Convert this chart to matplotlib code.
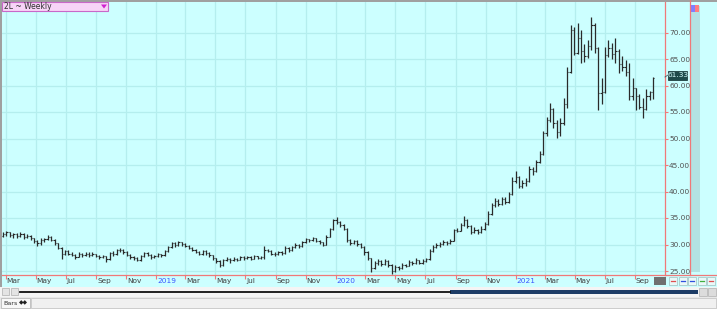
import numpy as np
import pandas as pd
import matplotlib
matplotlib.use("Agg")
import matplotlib.pyplot as plt
import matplotlib.dates as mdates
from matplotlib.patches import Rectangle, Polygon

# ===================== DATA (weekly OHLC, 2L) =====================
first_week = "2018-02-23"
n_weeks = 190

opens = [
    31.6, 32.0, 32.3, 31.7, 31.9, 31.6, 32.0, 31.4, 31.6, 31.2,
    30.6, 30.2, 30.9, 31.0, 31.5, 30.9, 30.2, 29.4, 28.2, 28.7,
    28.3, 28.1, 27.7, 28.2, 28.0, 28.3, 28.0, 28.2, 27.9, 27.6,
    27.8, 27.2, 28.4, 28.2, 28.9, 29.0, 28.6, 28.0, 27.6, 27.4,
    27.1, 27.8, 28.4, 28.1, 27.6, 27.9, 28.2, 28.0, 28.7, 29.6,
    30.2, 29.9, 30.4, 30.1, 29.8, 29.3, 29.0, 28.6, 28.3, 28.7,
    28.4, 28.0, 27.4, 26.8, 26.2, 27.0, 27.3, 27.0, 27.3, 27.1,
    27.7, 27.4, 27.7, 27.3, 27.8, 27.5, 27.7, 29.0, 28.8, 28.3,
    28.2, 28.5, 28.4, 29.4, 28.9, 29.5, 30.0, 29.7, 30.4, 31.0,
    30.8, 31.2, 30.6, 30.4, 30.0, 31.5, 33.0, 34.6, 34.2, 33.6,
    33.0, 30.8, 30.3, 30.6, 30.1, 29.6, 28.5, 27.4, 25.6, 26.5,
    26.8, 26.3, 26.9, 26.1, 25.0, 25.8, 25.5, 26.2, 26.0, 26.7,
    26.5, 27.0, 26.6, 26.9, 27.2, 28.7, 29.6, 29.9, 30.1, 30.5,
    30.3, 30.7, 32.8, 32.6, 33.6, 34.6, 33.5, 32.4, 32.8, 32.3,
    33.0, 33.8, 35.8, 37.5, 38.2, 37.6, 38.5, 38.0, 39.6, 42.0,
    42.8, 41.0, 41.6, 42.0, 44.2, 43.8, 45.6, 47.0, 51.0, 53.5,
    55.5, 53.0, 51.2, 53.0, 56.5, 62.5, 70.5, 66.2, 69.0, 66.5,
    65.5, 67.5, 71.5, 67.0, 58.5, 58.8, 65.8, 67.0, 66.0, 66.5,
    64.0, 63.5, 62.5, 58.0, 59.5, 58.0, 56.0, 55.5, 58.0, 58.8,
]
highs = [
    32.4, 32.5, 32.4, 32.2, 32.1, 32.4, 32.1, 31.9, 31.8, 31.3,
    30.8, 31.2, 31.3, 31.8, 31.6, 31.0, 30.3, 29.5, 29.0, 28.9,
    28.6, 28.3, 28.5, 28.4, 28.6, 28.5, 28.5, 28.3, 28.1, 28.1,
    27.9, 28.6, 28.7, 29.1, 29.3, 29.1, 28.8, 28.2, 27.9, 27.6,
    28.0, 28.6, 28.5, 28.2, 28.1, 28.4, 28.3, 28.9, 29.8, 30.5,
    30.4, 30.6, 30.5, 30.2, 29.9, 29.5, 29.2, 28.7, 28.9, 28.9,
    28.5, 28.1, 27.5, 27.0, 27.2, 27.6, 27.4, 27.6, 27.5, 27.9,
    27.8, 27.9, 27.8, 28.0, 27.9, 27.9, 29.8, 29.2, 28.9, 28.5,
    28.7, 28.7, 29.7, 29.5, 29.7, 30.2, 30.1, 30.6, 31.2, 31.1,
    31.5, 31.3, 30.8, 30.5, 31.7, 33.2, 34.9, 35.2, 34.4, 33.8,
    33.1, 31.0, 30.9, 30.8, 30.3, 29.8, 28.7, 27.5, 26.9, 27.3,
    27.0, 27.2, 27.0, 26.3, 26.1, 26.0, 26.5, 26.4, 27.0, 26.9,
    27.4, 27.1, 27.2, 27.5, 29.2, 29.9, 30.3, 30.5, 30.9, 30.7,
    31.0, 33.0, 33.2, 34.0, 35.3, 34.8, 33.7, 33.3, 33.0, 33.4,
    34.3, 36.3, 37.9, 38.8, 38.5, 39.0, 38.9, 40.0, 42.8, 43.8,
    43.0, 42.2, 42.6, 44.8, 44.6, 46.0, 47.6, 51.5, 54.0, 56.7,
    55.8, 53.5, 53.8, 57.7, 63.4, 71.4, 71.0, 71.8, 70.5, 67.8,
    68.6, 73.0, 71.8, 67.2, 61.5, 67.2, 68.6, 68.0, 69.0, 66.8,
    65.6, 64.8, 64.2, 61.5, 59.6, 58.4, 57.7, 59.4, 59.0, 61.6,
]
lows = [
    31.4, 31.6, 31.4, 31.3, 31.2, 31.5, 31.1, 31.2, 30.9, 30.3,
    29.8, 30.0, 30.5, 30.8, 30.6, 29.9, 29.1, 27.3, 28.0, 28.0,
    27.8, 27.3, 27.6, 27.7, 27.8, 27.7, 27.8, 27.6, 27.3, 27.4,
    26.7, 27.1, 27.9, 28.0, 28.5, 28.3, 27.8, 27.3, 27.1, 26.8,
    26.9, 27.6, 27.8, 27.3, 27.4, 27.7, 27.7, 27.9, 28.5, 29.4,
    29.6, 29.7, 29.8, 29.5, 29.1, 28.7, 28.4, 28.0, 28.1, 28.1,
    27.7, 27.1, 26.5, 25.8, 26.0, 26.8, 26.6, 26.8, 26.8, 27.0,
    27.1, 27.2, 27.0, 27.2, 27.2, 27.3, 27.3, 28.5, 28.0, 27.8,
    28.0, 28.1, 28.3, 28.6, 28.8, 29.3, 29.4, 29.6, 30.2, 30.5,
    30.7, 30.4, 30.1, 29.8, 29.9, 31.4, 32.8, 33.9, 33.3, 32.7,
    30.5, 30.0, 30.1, 29.8, 29.3, 28.0, 27.0, 24.9, 25.3, 26.2,
    25.9, 26.1, 25.8, 24.5, 24.8, 25.2, 25.3, 25.7, 25.9, 26.2,
    26.4, 26.3, 26.4, 26.7, 27.0, 28.5, 29.4, 29.6, 30.0, 30.0,
    30.1, 30.6, 32.3, 32.5, 33.4, 33.2, 32.0, 32.1, 32.0, 32.1,
    32.8, 33.6, 35.5, 37.0, 37.2, 37.4, 37.6, 37.8, 39.4, 41.6,
    40.6, 40.7, 41.0, 41.8, 43.2, 43.6, 45.3, 46.8, 50.5, 53.2,
    52.0, 50.1, 50.5, 52.5, 55.8, 62.3, 65.8, 65.9, 64.2, 64.5,
    65.2, 66.7, 66.2, 55.3, 56.6, 58.6, 65.3, 65.0, 64.2, 62.3,
    62.8, 61.8, 57.2, 57.2, 55.3, 55.5, 53.9, 55.3, 57.2, 57.5,
]
closes = [
    32.0, 32.3, 31.7, 31.9, 31.6, 32.0, 31.4, 31.6, 31.2, 30.6,
    30.2, 30.9, 31.0, 31.5, 30.9, 30.2, 29.4, 28.2, 28.7, 28.3,
    28.1, 27.7, 28.2, 28.0, 28.3, 28.0, 28.2, 27.9, 27.6, 27.8,
    27.2, 28.4, 28.2, 28.9, 29.0, 28.6, 28.0, 27.6, 27.4, 27.1,
    27.8, 28.4, 28.1, 27.6, 27.9, 28.2, 28.0, 28.7, 29.6, 30.2,
    29.9, 30.4, 30.1, 29.8, 29.3, 29.0, 28.6, 28.3, 28.7, 28.4,
    28.0, 27.4, 26.8, 26.2, 27.0, 27.3, 27.0, 27.3, 27.1, 27.7,
    27.4, 27.7, 27.3, 27.8, 27.5, 27.7, 29.0, 28.8, 28.3, 28.2,
    28.5, 28.4, 29.4, 28.9, 29.5, 30.0, 29.7, 30.4, 31.0, 30.8,
    31.2, 30.6, 30.4, 30.0, 31.5, 33.0, 34.6, 34.2, 33.6, 33.0,
    30.8, 30.3, 30.6, 30.1, 29.6, 28.5, 27.4, 25.6, 26.5, 26.8,
    26.3, 26.9, 26.1, 25.0, 25.8, 25.5, 26.2, 26.0, 26.7, 26.5,
    27.0, 26.6, 26.9, 27.2, 28.7, 29.6, 29.9, 30.1, 30.5, 30.3,
    30.7, 32.8, 32.6, 33.6, 34.6, 33.5, 32.4, 32.8, 32.3, 33.0,
    33.8, 35.8, 37.5, 38.2, 37.6, 38.5, 38.0, 39.6, 42.0, 42.8,
    41.0, 41.6, 42.0, 44.2, 43.8, 45.6, 47.0, 51.0, 53.5, 55.5,
    53.0, 51.2, 53.0, 56.5, 62.5, 70.5, 66.2, 69.0, 66.5, 65.5,
    67.5, 71.5, 67.0, 58.5, 58.8, 65.8, 67.0, 66.0, 66.5, 64.0,
    63.5, 62.5, 58.0, 59.5, 58.0, 56.0, 55.5, 58.0, 58.8, 61.33,
]

y_ticks = [25, 30, 35, 40, 45, 50, 55, 60, 65, 70]
month_ticks = ["2018-03-01", "2018-05-01", "2018-07-01", "2018-09-01", "2018-11-01",
               "2019-01-01", "2019-03-01", "2019-05-01", "2019-07-01", "2019-09-01",
               "2019-11-01", "2020-01-01", "2020-03-01", "2020-05-01", "2020-07-01",
               "2020-09-01", "2020-11-01", "2021-01-01", "2021-03-01", "2021-05-01",
               "2021-07-01", "2021-09-01"]
month_labels = ["Mar", "May", "Jul", "Sep", "Nov", "2019", "Mar", "May", "Jul", "Sep",
                "Nov", "2020", "Mar", "May", "Jul", "Sep", "Nov", "2021", "Mar", "May",
                "Jul", "Sep"]
last_price = "61.33"
title = "2L ~ Weekly"

# ===================== COLOURS =====================
BG = "#ccffff"
GRID = "#b4eeee"
RED = "#f07878"
BAR = "#2a2a2a"
BLUE = "#3a55ff"

# ===================== FIGURE =====================
W, H = 717, 309
fig = plt.figure(figsize=(W / 100, H / 100), dpi=100)
fig.patch.set_facecolor(BG)


def px_axes(x0, y0, x1, y1, **kw):
    return fig.add_axes([x0 / W, 1 - y1 / H, (x1 - x0) / W, (y1 - y0) / H], **kw)


# overlay in pixel coordinates (for frame pieces)
ov = px_axes(0, 0, W, H, zorder=5)
ov.set_xlim(0, W)
ov.set_ylim(H, 0)
ov.axis("off")
ov.patch.set_alpha(0)

# ===================== MAIN PRICE AXES =====================
ax = px_axes(2, 2, 665, 275, zorder=2)
ax.set_facecolor(BG)

d0 = mdates.date2num(pd.Timestamp("2018-03-01"))
d1 = mdates.date2num(pd.Timestamp("2021-09-01"))
ppd = (635 - 6) / (d1 - d0)
ax.set_xlim(d0 - (6 - 2) / ppd, d1 + (665 - 635) / ppd)
ax.set_ylim(70 - (275 - 32.5) / 5.3, 70 + (32.5 - 2) / 5.3)

dates = pd.date_range(first_week, periods=n_weeks, freq="W-FRI")
x = mdates.date2num(dates)

ax.vlines(x, lows, highs, color=BAR, lw=0.9, zorder=3)
ax.hlines(opens, x - 2.6, x, color=BAR, lw=0.8, zorder=3)
ax.hlines(closes, x, x + 2.6, color=BAR, lw=0.8, zorder=3)

xt = mdates.date2num(pd.to_datetime(month_ticks))
ax.set_xticks(xt)
ax.set_xticklabels([])
ax.tick_params(axis="x", direction="out", length=3, width=0.8, color=RED)
ax.yaxis.tick_right()
ax.set_yticks(y_ticks)
ax.set_yticklabels([f"{v:.2f}" for v in y_ticks], fontsize=5.3, color="#505050")
ax.tick_params(axis="y", direction="out", length=2, width=0.8, color=RED, pad=1)
ax.grid(True, color=GRID, lw=0.9)
ax.set_axisbelow(True)

for s in ["top", "left"]:
    ax.spines[s].set_visible(False)
for s in ["bottom", "right"]:
    ax.spines[s].set_color(RED)
    ax.spines[s].set_linewidth(0.9)

trans = ax.get_xaxis_transform()
for t, lab in zip(xt, month_labels):
    col = BLUE if lab.isdigit() else "#404040"
    ax.text(t + 1.5, -0.012, lab, transform=trans, ha="left", va="top",
            fontsize=5.3, color=col, clip_on=False)

# ===================== FRAME / UI PIECES =====================
# outer grey border
ov.add_patch(Rectangle((0, 0), W, 1.5, color="#a0a0a0", lw=0))
ov.add_patch(Rectangle((0, 0), 1.5, 287, color="#a0a0a0", lw=0))

# bottom red line across full width
ov.plot([665, W], [275, 275], color=RED, lw=0.9)
# second red vertical line and the shaded strip
ov.plot([689.5, 689.5], [0, 275], color=RED, lw=0.9)
ov.add_patch(Rectangle((691, 6), 9, 266, color="#b3e3e3", lw=0))
ov.add_patch(Rectangle((690.5, 5), 4, 7, color="#7f7fff", lw=0))
ov.add_patch(Rectangle((694.5, 5), 4, 7, color="#ff7f7f", lw=0))

# title box
ov.add_patch(Rectangle((2, 1.5), 106, 9, facecolor="#f7d4f7", edgecolor="#c868c8", lw=0.8))
ov.text(4, 6.2, title, fontsize=5.5, color="#303030", va="center", ha="left")
ov.add_patch(Polygon([[101, 4.5], [107, 4.5], [104, 8.5]], closed=True, color="#d020d0", lw=0))

# last price box
ov.add_patch(Rectangle((668, 71), 19, 8.5, facecolor="#1e4a4a", edgecolor="#0e2a2a", lw=0.5))
ov.text(677.5, 75.4, last_price, fontsize=5.3, color="#d8ffff", ha="center", va="center")
ov.plot([665, 668], [77, 75], color="#406060", lw=0.6)

# bottom-right buttons
ov.add_patch(Rectangle((654, 276.5), 12, 8, color="#707070", lw=0))
btn_cols = ["#e05050", "#3050e0", "#3050e0", "#40b040", "#e05050"]
for k, bc in enumerate(btn_cols):
    bx = 669 + k * 9.6
    ov.add_patch(Rectangle((bx, 277), 8, 8, facecolor="#eaf8f8", edgecolor="#a0c0c0", lw=0.5))
    ov.plot([bx + 2, bx + 6], [281, 281], color=bc, lw=0.9)

# scroll row
ov.add_patch(Rectangle((0, 287), W, 10, color="#f4f4f4", lw=0))
ov.add_patch(Rectangle((2, 288), 7, 7, facecolor="#e4e4e4", edgecolor="#b0b0b0", lw=0.5))
ov.add_patch(Rectangle((11, 288), 7, 7, facecolor="#e4e4e4", edgecolor="#b0b0b0", lw=0.5))
ov.plot([20, 450], [291.5, 291.5], color="#101010", lw=1.3)
ov.add_patch(Rectangle((450, 290), 248, 3.5, color="#1d3c66", lw=0))
ov.add_patch(Rectangle((699, 288), 8, 8, facecolor="#dcdcdc", edgecolor="#b0b0b0", lw=0.5))
ov.add_patch(Rectangle((708, 288), 8, 8, facecolor="#dcdcdc", edgecolor="#b0b0b0", lw=0.5))

# bottom tab bar
ov.add_patch(Rectangle((0, 297), W, 12, color="#e8e8e8", lw=0))
ov.add_patch(Rectangle((31, 298), W - 32, 10, facecolor="#f0f0f0", edgecolor="#c0c0c0", lw=0.5))
ov.add_patch(Rectangle((1, 298), 29, 10, facecolor="#f8f8f8", edgecolor="#b0b0b0", lw=0.5))
ov.text(3, 303.2, "Bars", fontsize=4.6, color="#303030", va="center", ha="left")
ov.text(19, 303.2, "\u25c6\u25c6", fontsize=4.2, color="#202020", va="center", ha="left")

fig.savefig("out.png", dpi=100, facecolor=fig.get_facecolor())
